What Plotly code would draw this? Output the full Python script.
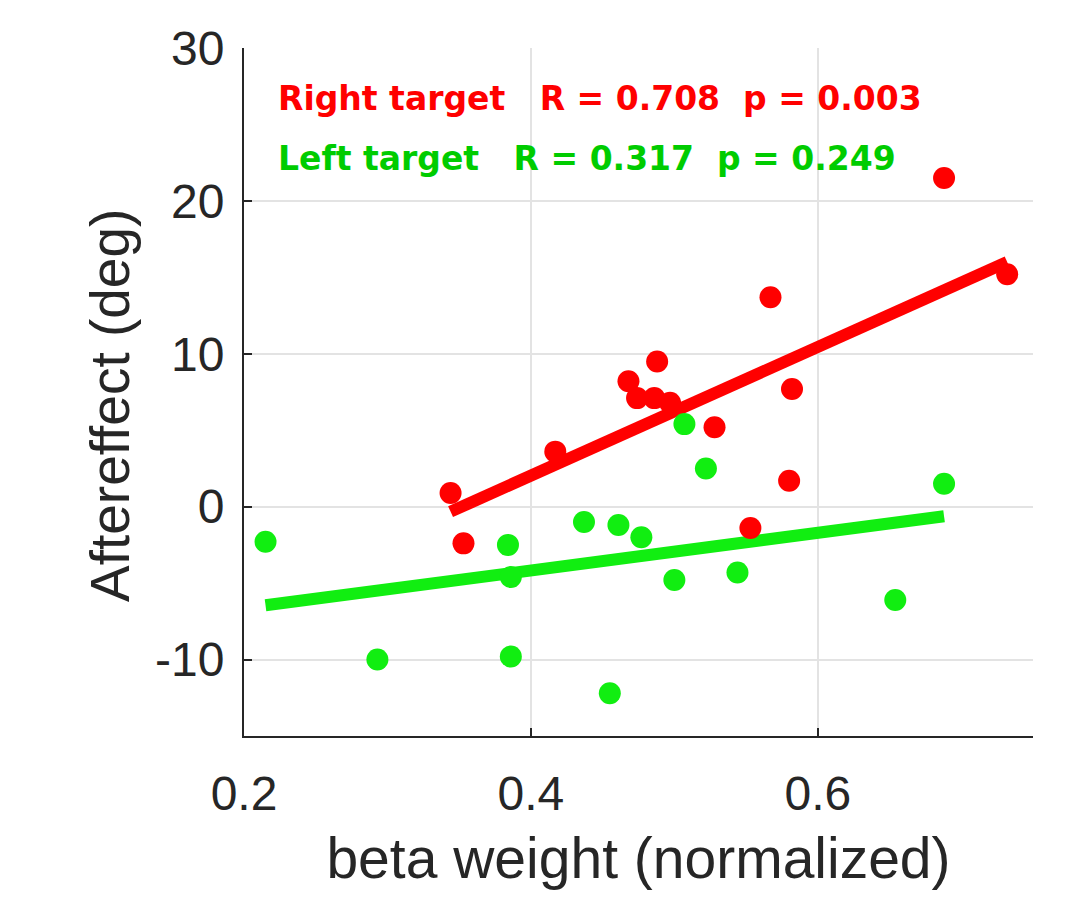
import numpy as np
import plotly.graph_objects as go

# Right-target subjects: beta weight vs aftereffect
right_beta = [0.688, 0.732, 0.567, 0.582, 0.488, 0.468, 0.474, 0.486, 0.497,
              0.528, 0.417, 0.344, 0.580, 0.553, 0.353]
right_after = [21.5, 15.2, 13.7, 7.7, 9.5, 8.2, 7.1, 7.1, 6.8,
               5.2, 3.6, 0.9, 1.7, -1.4, -2.4]

# Left-target subjects
left_beta = [0.215, 0.688, 0.507, 0.522, 0.437, 0.461, 0.477, 0.384, 0.386,
             0.500, 0.544, 0.654, 0.293, 0.386, 0.455]
left_after = [-2.3, 1.5, 5.4, 2.5, -1.0, -1.2, -2.0, -2.5, -4.6,
              -4.8, -4.3, -6.1, -10.0, -9.8, -12.2]

x_ticks = [0.2, 0.4, 0.6]
y_ticks = [-10, 0, 10, 20, 30]

right_label = "Right target   R = 0.708  p = 0.003"
left_label = "Left target   R = 0.317  p = 0.249"

RED = "#ff0000"
GREEN_MARK = "#11ee11"
GREEN_TEXT = "#00cc00"
INK = "#262626"
SANS = "Liberation Sans, Arial"


def fit_line(x, y):
    x = np.asarray(x)
    y = np.asarray(y)
    slope, icpt = np.polyfit(x, y, 1)
    xs = np.array([x.min(), x.max()])
    return xs, slope * xs + icpt


fig = go.Figure()

for bx, ay, mc in [(right_beta, right_after, RED), (left_beta, left_after, GREEN_MARK)]:
    lx, ly = fit_line(bx, ay)
    fig.add_trace(go.Scatter(x=lx, y=ly, mode="lines",
                             line=dict(color=mc, width=12), showlegend=False,
                             hoverinfo="skip"))

for bx, ay, mc in [(right_beta, right_after, RED), (left_beta, left_after, GREEN_MARK)]:
    fig.add_trace(go.Scatter(x=bx, y=ay, mode="markers",
                             marker=dict(color=mc, size=22, line=dict(width=0)),
                             showlegend=False))

for label, col, ypos in [(right_label, RED, 0.927), (left_label, GREEN_TEXT, 0.840)]:
    fig.add_annotation(x=0.040, y=ypos, xref="paper", yref="paper",
                       xanchor="left", yanchor="middle", showarrow=False,
                       text=label.replace(" ", "\u00a0"),
                       font=dict(family="DejaVu Sans", size=33, color=col, weight="bold"))

# vertical axis title placed as an annotation so it can sit slightly below centre
fig.add_annotation(x=110, y=406, xref="x domain", yref="y domain", showarrow=False,
                   text="Aftereffect (deg)", textangle=-90,
                   font=dict(family=SANS, size=55, color=INK))
fig.layout.annotations[-1].update(xref="paper", yref="paper",
                                  x=(110 - 244) / 789, y=(736 - 406) / 688,
                                  xanchor="center", yanchor="middle")

axis_common = dict(
    showgrid=True, gridcolor="#e3e3e3", gridwidth=1.5,
    showline=True, linecolor=INK, linewidth=2,
    ticks="inside", ticklen=8, tickwidth=2, tickcolor=INK,
    tickfont=dict(family=SANS, size=48, color=INK),
    zeroline=False, mirror=False,
)

fig.update_xaxes(range=[0.2, 0.75], tickvals=x_ticks, ticktext=[f"{v:.1f}" for v in x_ticks],
                 title=dict(text="beta weight (normalized)", standoff=20,
                            font=dict(family=SANS, size=57, color=INK)),
                 ticklabelstandoff=14, **axis_common)
fig.update_yaxes(range=[-15, 30], tickvals=y_ticks, ticktext=[str(v) for v in y_ticks],
                 ticklabelstandoff=8, **axis_common)

fig.update_layout(
    width=1090, height=900,
    margin=dict(l=244, r=57, t=48, b=164),
    paper_bgcolor="white", plot_bgcolor="white",
    font=dict(family=SANS, color=INK),
)

fig.write_html("out.html")
